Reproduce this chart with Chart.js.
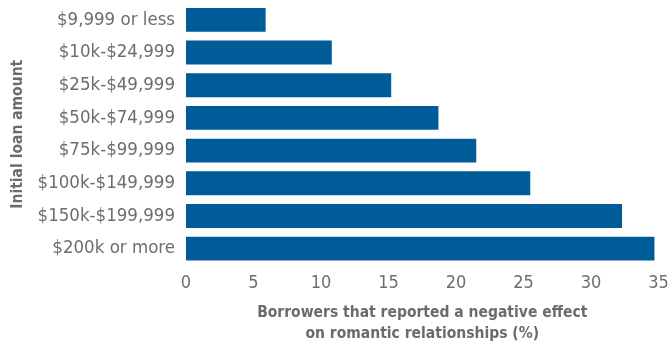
<!DOCTYPE html>
<html>
<head>
<meta charset="utf-8">
<script src="https://cdn.jsdelivr.net/npm/chart.js@4"></script>
<style>
html,body{margin:0;padding:0;background:#fff;}
#wrap{width:670px;height:345px;position:relative;}
</style>
</head>
<body>
<div id="wrap"><canvas id="c" width="670" height="345"></canvas></div>
<script>
const categories = ["$9,999 or less","$10k-$24,999","$25k-$49,999","$50k-$74,999","$75k-$99,999","$100k-$149,999","$150k-$199,999","$200k or more"];
const values = [5.9, 10.8, 15.2, 18.7, 21.5, 25.5, 32.3, 34.7];
const xTitle = ["Borrowers that reported a negative effect","on romantic relationships (%)"];
const yTitle = "Initial loan amount";

const FONT = "'Liberation Sans Narrow', 'DejaVu Sans Condensed', sans-serif";
new Chart(document.getElementById('c'), {
  type: 'bar',
  data: {
    labels: categories,
    datasets: [{ data: values, backgroundColor: '#005b99', categoryPercentage: 0.73, barPercentage: 1 }]
  },
  options: {
    indexAxis: 'y',
    responsive: false,
    animation: false,
    layout: { padding: { left: 0, right: 11.5, top: 3.5, bottom: 0 } },
    plugins: { legend: { display: false }, tooltip: { enabled: false } },
    scales: {
      x: {
        min: 0, max: 35,
        ticks: { stepSize: 5, color: '#6d6d6d', font: { family: FONT, size: 18 }, padding: 8 },
        grid: { display: false, drawTicks: false },
        border: { display: false },
        title: { display: true, text: xTitle, color: '#6b6b6b', font: { family: FONT, size: 15.5, weight: 'bold', lineHeight: 1.35 }, padding: { top: 4, bottom: 1 } },
        afterFit: (s) => { s.height = 80; s.paddingLeft = 0; s.paddingRight = 0; }
      },
      y: {
        ticks: { color: '#6d6d6d', font: { family: FONT, size: 18.5 }, padding: 11 },
        grid: { display: false, drawTicks: false },
        border: { display: false },
        title: { display: true, text: yTitle, color: '#6b6b6b', font: { family: FONT, size: 15.5, weight: 'bold' }, padding: { top: 9, bottom: 0 } },
        afterFit: (s) => { s.width = 186; s.paddingTop = 0; s.paddingBottom = 0; }
      }
    }
  }
});
</script>
</body>
</html>
